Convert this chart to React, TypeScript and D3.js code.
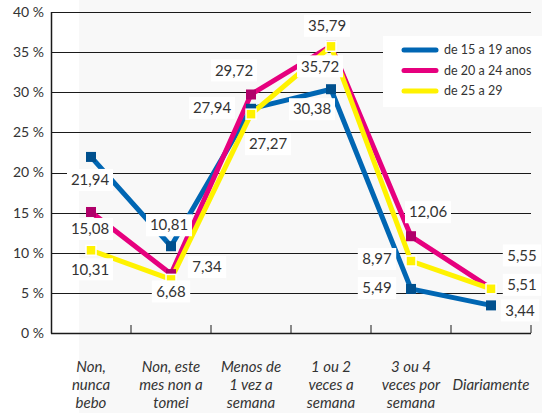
import React from "react";
import * as d3 from "d3";

const categories = [
  "Non,|nunca|bebo",
  "Non, este|mes non a|tomei",
  "Menos de|1 vez a|semana",
  "1 ou 2|veces a|semana",
  "3 ou 4|veces por|semana",
  "Diariamente",
];
const seriesNames = ["de 15 a 19 anos", "de 20 a 24 anos", "de 25 a 29"];
const values15to19 = [21.94, 10.81, 27.94, 30.38, 5.49, 3.44];
const values20to24 = [15.08, 7.34, 29.72, 35.79, 12.06, 5.55];
const values25to29 = [10.31, 6.68, 27.27, 35.72, 8.97, 5.51];
const yTicks = [0, 5, 10, 15, 20, 25, 30, 35, 40];

// label offsets from each point, in px (layout only)
const labelOffsets = [
  [[-1, 23], [-2, -21], [-39, -1], [-19, 20], [-34, -1], [29, 5]],
  [[-1, 17], [36, -7], [-17, -24], [-4, -20], [17, -24], [31, -33]],
  [[-1, 19], [0, 12], [17, 30], [-11, 20], [-34, -2], [31, -4]],
];

const lineColors = ["#0066b3", "#e6007e", "#fff200"];
const markerColors = ["#00508e", "#b0006a", "#fff200"];

const W = 542;
const H = 413;
const font = "Lato, 'Open Sans', sans-serif";

export default function App() {
  const x = d3.scaleBand<number>().domain(d3.range(categories.length)).range([51, 531]);
  const y = d3.scaleLinear().domain([0, 40]).range([333, 12]);
  const series = [values15to19, values20to24, values25to29];
  const fmt = (v: number) => v.toFixed(2).replace(".", ",");
  const cx = (i: number) => (x(i) as number) + x.bandwidth() / 2;

  const line = d3
    .line<number>()
    .x((_, i) => cx(i))
    .y((d) => y(d));

  return (
    <svg
      width={W}
      height={H}
      style={{ position: "absolute", left: 0, top: 0, fontFamily: font }}
    >
      <rect x={0} y={0} width={W} height={H} fill="#ffffff" />
      <rect x={79} y={0} width={W - 79} height={H} fill="#f8f8f8" />

      {/* grid + y ticks */}
      {yTicks.map((t) => (
        <g key={t}>
          {t > 0 && (
            <line x1={51} x2={531} y1={Math.round(y(t)) + 0.5} y2={Math.round(y(t)) + 0.5} stroke="#1a1a1a" strokeWidth={1} />
          )}
          <text x={44} y={y(t)} dy="0.35em" textAnchor="end" fontSize={14} fill="#333">
            {t} %
          </text>
        </g>
      ))}

      {/* axes */}
      <line x1={51.5} x2={51.5} y1={12} y2={333.5} stroke="#1a1a1a" strokeWidth={1.5} />
      <line x1={51} x2={531} y1={333.5} y2={333.5} stroke="#1a1a1a" strokeWidth={1.5} />
      {d3.range(1, categories.length + 1).map((i) => {
        const xx = i < categories.length ? (x(i) as number) : 531;
        return <line key={i} x1={xx} x2={xx} y1={333} y2={325} stroke="#1a1a1a" strokeWidth={1} />;
      })}

      {/* x labels */}
      {categories.map((c, i) => {
        const lines = c.split("|");
        const start = 367 + ((3 - lines.length) * 18) / 2;
        return (
          <text key={c} x={cx(i)} textAnchor="middle" fontSize={15} fontStyle="italic" fill="#333">
            {lines.map((l, k) => (
              <tspan key={k} x={cx(i)} y={start + k * 18} dy="0.35em">
                {l}
              </tspan>
            ))}
          </text>
        );
      })}

      {/* lines */}
      {series.map((s, si) => (
        <path key={si} d={line(s) || ""} fill="none" stroke={lineColors[si]} strokeWidth={5} strokeLinejoin="miter" />
      ))}

      {/* markers */}
      {series.map((s, si) =>
        s.map((v, i) => (
          <rect
            key={`${si}-${i}`}
            x={cx(i) - 5}
            y={y(v) - 5}
            width={10}
            height={10}
            fill={markerColors[si]}
            stroke={si === 2 ? "#ffffff" : "none"}
            strokeWidth={si === 2 ? 1.5 : 0}
          />
        ))
      )}

      {/* value labels */}
      {series.map((s, si) =>
        s.map((v, i) => {
          const [dx, dy] = labelOffsets[si][i];
          const lx = cx(i) + dx;
          const ly = y(v) + dy;
          const txt = fmt(v);
          const w = txt.length * 7.6 + 8;
          return (
            <g key={`l${si}-${i}`}>
              <rect x={lx - w / 2} y={ly - 11} width={w} height={22} fill="#ffffff" />
              <text x={lx} y={ly} dy="0.35em" textAnchor="middle" fontSize={15} fill="#333">
                {txt}
              </text>
            </g>
          );
        })
      )}

      {/* legend */}
      <rect x={383} y={36} width={W - 383} height={71} fill="#ffffff" />
      {seriesNames.map((n, i) => (
        <g key={n} transform={`translate(0,${50 + i * 20.5})`}>
          <line x1={404} x2={436} y1={0} y2={0} stroke={lineColors[i]} strokeWidth={5} strokeLinecap="round" />
          <text x={444} y={0} dy="0.35em" fontSize={12.5} fill="#333">
            {n}
          </text>
        </g>
      ))}
    </svg>
  );
}
